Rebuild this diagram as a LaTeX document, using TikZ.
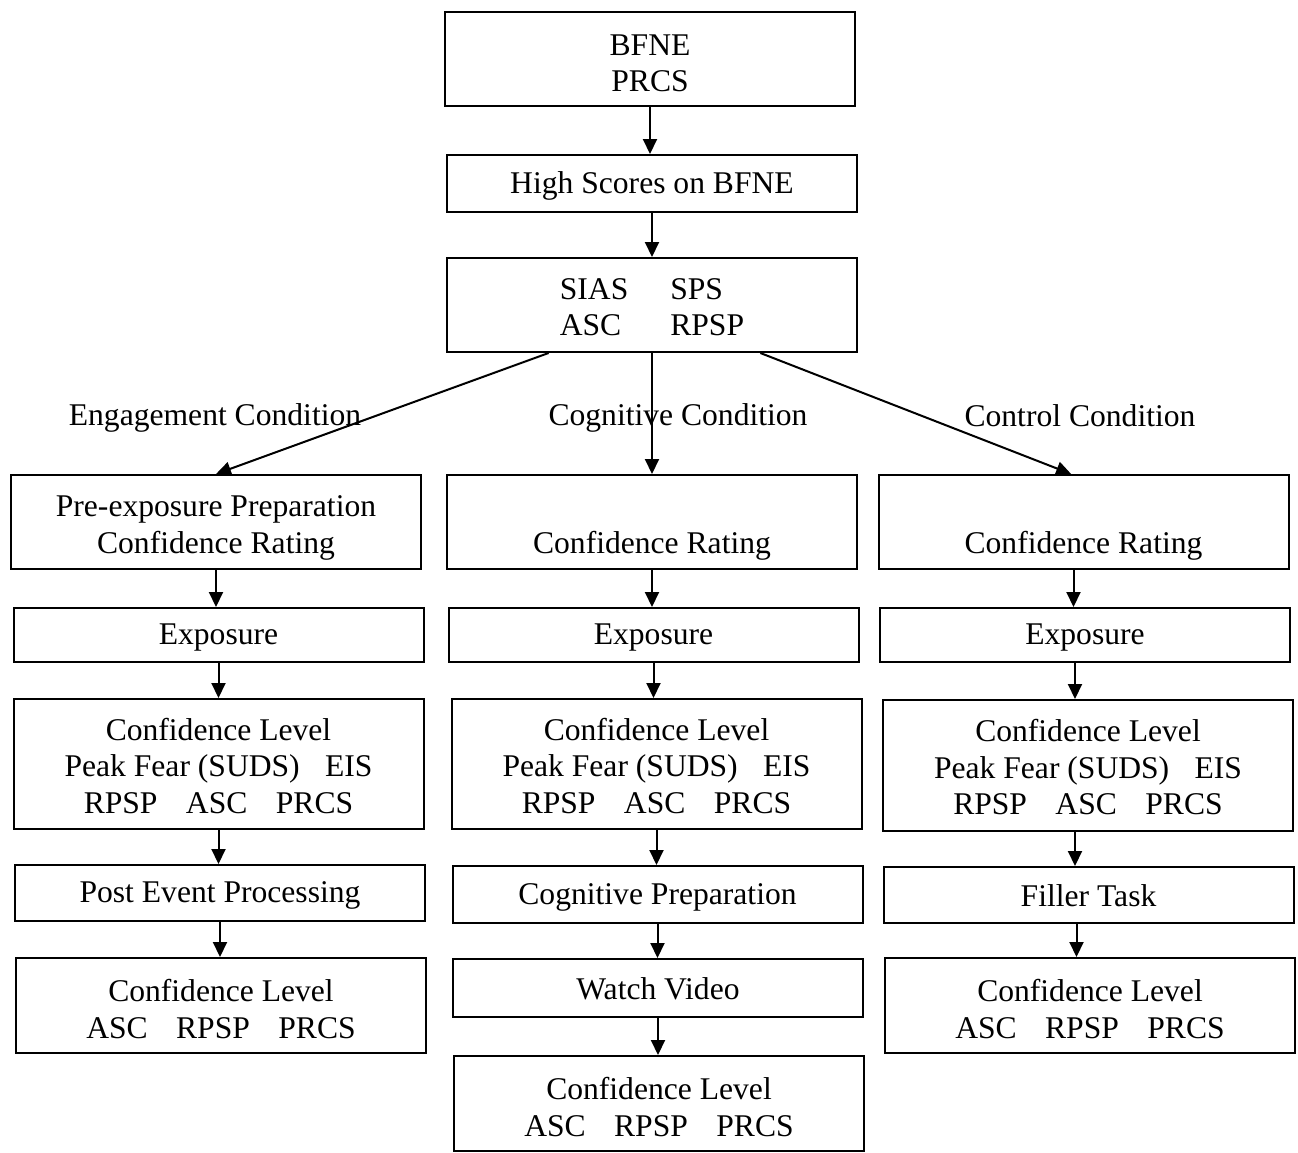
\documentclass[tikz,border=0pt]{standalone}
\usepackage{fontspec}
\setmainfont{Liberation Serif}
\usetikzlibrary{arrows.meta, calc}
\newcommand{\gapw}{\hspace{0.9em}}
\newcommand{\bx}{\rule[-2pt]{0pt}{15pt}}
\newcommand{\uptwo}{\rule{0pt}{16.5pt}}
\newcommand{\upthree}{\rule{0pt}{14.7pt}}

\tikzset{
  box/.style={draw, line width=1pt, inner sep=0pt, align=center,
    minimum width=205pt, font=\fontsize{15.8}{18.25}\selectfont,
    execute at begin node=\bx, execute at end node=\bx},
  lbl/.style={inner sep=0pt, font=\fontsize{15.8}{18.25}\selectfont,
    execute at begin node=\bx},
  arr/.style={-{Triangle[length=7.5pt, width=7pt]}, line width=1pt}
}

\begin{document}
\begin{tikzpicture}[x=0.5pt, y=-0.5pt]
  \useasboundingbox (0,0) rectangle (1298,1153);
  % screening
  \node[box, minimum height=47pt] (top) at (650,59) {\uptwo BFNE\\PRCS};
  \node[box, minimum height=28.5pt] (high) at (652,183.5) {High Scores on BFNE};
  \node[box, minimum height=47pt] (sias) at (652,305)
    {\rule{0pt}{27pt}\begin{tabular}{@{}l@{\hspace{21pt}}l@{}}SIAS & SPS\\ASC & RPSP\end{tabular}};
  \draw[arr] (top.south) -- (top.south |- high.north);
  \draw[arr] (high.south) -- (high.south |- sias.north);
  % condition labels
  \node[lbl] (eng) at (215,416) {Engagement Condition};
  \node[lbl] (cgn) at (678,416) {Cognitive Condition};
  \node[lbl] (ctl) at (1080,415) {Control Condition};
  % Engagement column
  \node[box, minimum height=47pt] (pre) at (216,522) {\uptwo Pre-exposure Preparation\\Confidence Rating};
  \node[box, minimum height=27pt] (expa) at (218.5,635) {Exposure};
  \node[box, minimum height=65pt] (cla) at (218.5,764)
    {\upthree Confidence Level\\Peak Fear (SUDS)\hspace{0.8em}EIS\\RPSP\gapw ASC\gapw PRCS};
  \node[box, minimum height=28pt] (pep) at (220,893) {Post Event Processing};
  \node[box, minimum height=47.5pt] (cla2) at (221,1005.5) {\uptwo Confidence Level\\ASC\gapw RPSP\gapw PRCS};
  % Cognitive column
  \node[box, minimum height=47pt] (crb) at (652,522) {\uptwo\phantom{Confidence Rating}\\Confidence Rating};
  \node[box, minimum height=27pt] (expb) at (653.5,635) {Exposure};
  \node[box, minimum height=65pt] (clb) at (656.5,764)
    {\upthree Confidence Level\\Peak Fear (SUDS)\hspace{0.8em}EIS\\RPSP\gapw ASC\gapw PRCS};
  \node[box, minimum height=28.5pt] (cog) at (657.5,894.5) {Cognitive Preparation};
  \node[box, minimum height=29pt] (watch) at (658,988) {Watch Video};
  \node[box, minimum height=47.5pt] (clb2) at (659,1103.5) {\uptwo Confidence Level\\ASC\gapw RPSP\gapw PRCS};
  % Control column
  \node[box, minimum height=47pt] (crc) at (1083.5,522) {\uptwo\phantom{Confidence Rating}\\Confidence Rating};
  \node[box, minimum height=27pt] (expc) at (1085,635) {Exposure};
  \node[box, minimum height=65.5pt] (clc) at (1088,765.5)
    {\upthree Confidence Level\\Peak Fear (SUDS)\hspace{0.8em}EIS\\RPSP\gapw ASC\gapw PRCS};
  \node[box, minimum height=28pt] (fill) at (1088.5,895) {Filler Task};
  \node[box, minimum height=47.5pt] (clc2) at (1090,1005.5) {\uptwo Confidence Level\\ASC\gapw RPSP\gapw PRCS};
  % branches
  \draw[arr] ($(sias.south west)!0.249!(sias.south east)$) -- (pre.north);
  \draw[arr] (sias.south) -- (sias.south |- crb.north);
  \draw[arr] ($(sias.south west)!0.763!(sias.south east)$) -- ($(crc.north west)!0.47!(crc.north east)$);
  % column arrows
  \draw[arr] (pre.south) -- (pre.south |- expa.north);
  \draw[arr] (expa.south) -- (expa.south |- cla.north);
  \draw[arr] (cla.south) -- (cla.south |- pep.north);
  \draw[arr] (pep.south) -- (pep.south |- cla2.north);
  \draw[arr] (crb.south) -- (crb.south |- expb.north);
  \draw[arr] (expb.south) -- (expb.south |- clb.north);
  \draw[arr] (clb.south) -- (clb.south |- cog.north);
  \draw[arr] (cog.south) -- (cog.south |- watch.north);
  \draw[arr] (watch.south) -- (watch.south |- clb2.north);
  \draw[arr] ([xshift=-5pt]crc.south) -- ([xshift=-5pt]crc.south |- expc.north);
  \draw[arr] ([xshift=-5pt]expc.south) -- ([xshift=-5pt]expc.south |- clc.north);
  \draw[arr] ([xshift=-6.5pt]clc.south) -- ([xshift=-6.5pt]clc.south |- fill.north);
  \draw[arr] ([xshift=-6pt]fill.south) -- ([xshift=-6pt]fill.south |- clc2.north);
\end{tikzpicture}
\end{document}
